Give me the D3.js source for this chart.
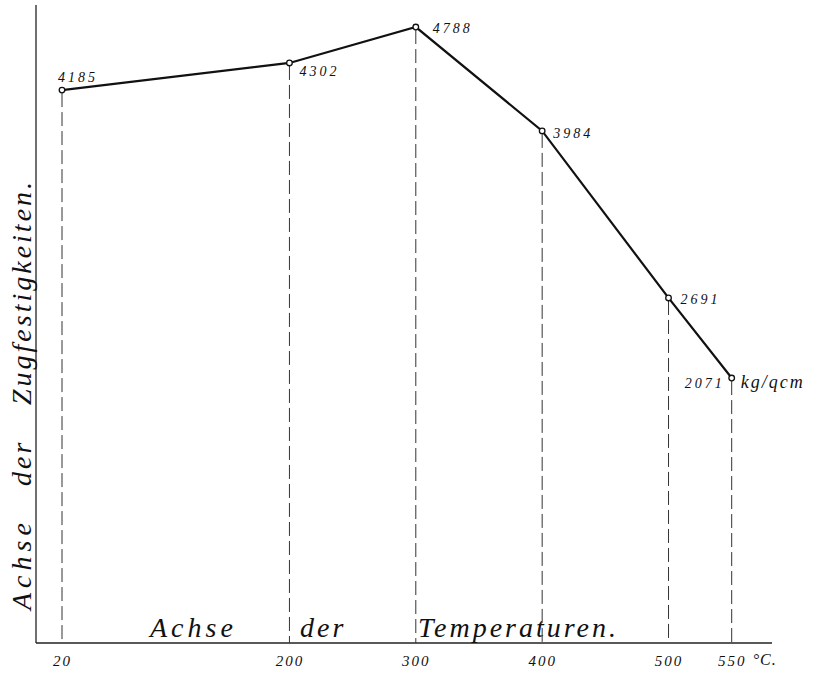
<!DOCTYPE html>
<html><head><meta charset="utf-8">
<script src="https://cdn.jsdelivr.net/npm/d3@7"></script>
<style>
html,body{margin:0;padding:0;background:#fff;}
svg text{font-family:"Liberation Serif","DejaVu Serif",serif;font-style:italic;fill:#111;}
</style></head>
<body>
<svg id="c" width="822" height="678"></svg>
<script>
// Data
const temperatures = [20, 200, 300, 400, 500, 550];          // °C
const strengthPlotted = [4300, 4510, 4788, 3984, 2691, 2071]; // plotted heights (kg/qcm)
const strengthLabels = ["4185", "4302", "4788", "3984", "2691", "2071"];
const tickLabels = ["20", "200", "300", "400", "500", "550"];
const xTitleWords = ["Achse", "der", "Temperaturen."];
const yTitleWords = ["Achse", "der", "Zugfestigkeiten."];
const unitLabel = "kg/qcm";
const tempUnit = "°C.";

const svg = d3.select("#c");
const x = d3.scaleLinear().domain([20, 550]).range([62, 731.7]);
const y = d3.scaleLinear().domain([0, 5000]).range([645.6, -0.35]);
const axisY = 643, axisX = 36;

// axes lines
svg.append("line").attr("x1", axisX).attr("x2", axisX).attr("y1", 5).attr("y2", axisY)
  .attr("stroke", "#222").attr("stroke-width", 1.3);
svg.append("line").attr("x1", axisX).attr("x2", 772).attr("y1", axisY).attr("y2", axisY)
  .attr("stroke", "#222").attr("stroke-width", 1.3);

const pts = temperatures.map((t, i) => ({t, v: strengthPlotted[i], lab: strengthLabels[i]}));

// dashed verticals
svg.selectAll("line.drop").data(pts).enter().append("line").attr("class", "drop")
  .attr("x1", d => x(d.t)).attr("x2", d => x(d.t))
  .attr("y1", d => y(d.v) + 3).attr("y2", axisY)
  .attr("stroke", "#333").attr("stroke-width", 1).attr("stroke-dasharray", "14,5");

// line
svg.append("path").datum(pts)
  .attr("d", d3.line().x(d => x(d.t)).y(d => y(d.v)))
  .attr("fill", "none").attr("stroke", "#111").attr("stroke-width", 2.2);

// points
svg.selectAll("circle").data(pts).enter().append("circle")
  .attr("cx", d => x(d.t)).attr("cy", d => y(d.v)).attr("r", 2.8)
  .attr("fill", "#fff").attr("stroke", "#111").attr("stroke-width", 1.3);

// value labels
const off = [[-4, -8], [10, 13], [17, 6], [11, 7], [12, 6], [-47, 10]];
svg.selectAll("text.val").data(pts).enter().append("text").attr("class", "val")
  .attr("x", (d, i) => x(d.t) + off[i][0]).attr("y", (d, i) => y(d.v) + off[i][1])
  .attr("font-size", 14).attr("letter-spacing", 3).text(d => d.lab);
svg.append("text").attr("x", x(550) + 9).attr("y", y(2071) + 10)
  .attr("font-size", 18).attr("letter-spacing", 2).text(unitLabel);

// x axis tick labels
const xAxis = d3.axisBottom(x).tickValues(temperatures).tickSize(0)
  .tickFormat((d, i) => tickLabels[i]).tickPadding(12);
const gx = svg.append("g").attr("transform", `translate(0,${axisY})`).call(xAxis);
gx.select(".domain").remove();
gx.selectAll("text").attr("font-size", 15).attr("font-family", "Liberation Serif, serif")
  .attr("font-style", "italic").attr("fill", "#111").attr("letter-spacing", 2);
svg.append("text").attr("x", x(550) + 21).attr("y", 665).attr("font-size", 16)
  .attr("letter-spacing", 1).text(tempUnit);

// x title
const xPos = [150, 300, 418];
const xSpacing = [4, 3, 3];
xTitleWords.forEach((w, i) => {
  svg.append("text").attr("x", xPos[i]).attr("y", 637).attr("font-size", 28)
    .attr("letter-spacing", xSpacing[i]).text(w);
});

// y title (rotated)
const yPos = [610, 486, 405];
const ySpacing = [5, 3, 3];
yTitleWords.forEach((w, i) => {
  svg.append("text").attr("transform", `translate(31,${yPos[i]}) rotate(-90)`)
    .attr("font-size", 28).attr("letter-spacing", ySpacing[i]).text(w);
});
</script>
</body></html>
